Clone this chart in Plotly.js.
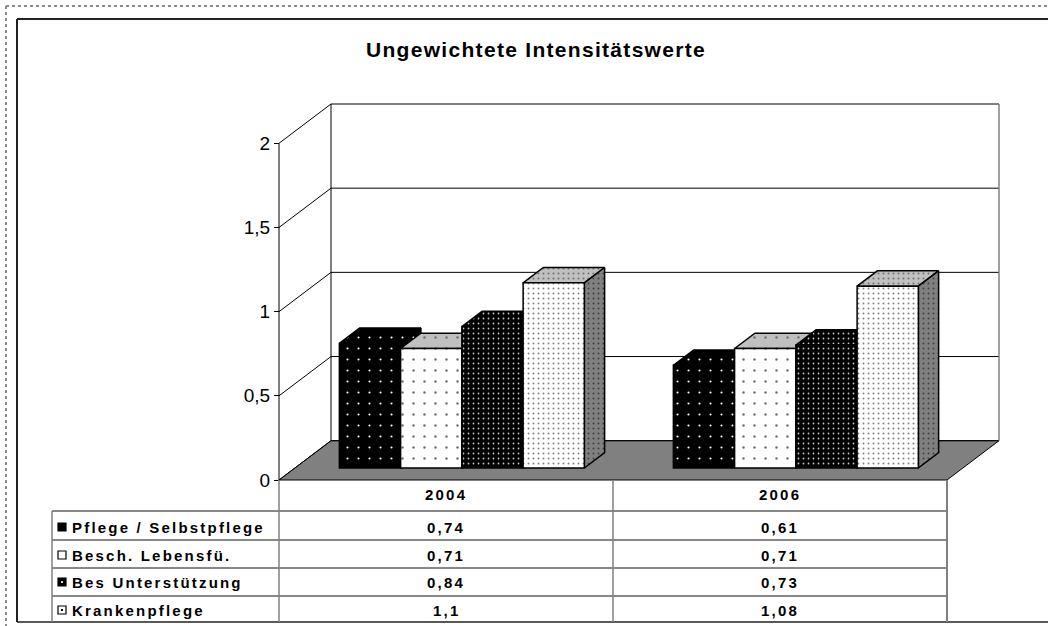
<!DOCTYPE html>
<html>
<head>
<meta charset="utf-8">
<script src="https://cdn.plot.ly/plotly-3.0.1.min.js"></script>
<style>
  html, body { margin: 0; padding: 0; background: #ffffff; }
  #chart { width: 1048px; height: 626px; }
  .annotation-text { letter-spacing: 2.2px; }
  .gtitle { letter-spacing: 1.3px; }
</style>
</head>
<body>
<div id="chart"></div>
<script>
// ---------------- data ----------------
const categories = ['2004', '2006'];
const seriesNames = ['Pflege / Selbstpflege', 'Besch. Lebensfü.', 'Bes Unterstützung', 'Krankenpflege'];
const pflegeSelbstpflege = [0.74, 0.61];
const beschLebensfue = [0.71, 0.71];
const besUnterstuetzung = [0.84, 0.73];
const krankenpflege = [1.1, 1.08];
const yTickValues = [0, 0.5, 1, 1.5, 2];
const chartTitle = 'Ungewichtete Intensitätswerte';

const seriesValues = [pflegeSelbstpflege, beschLebensfue, besUnterstuetzung, krankenpflege];

// ---------------- styles ----------------
const faceStyles = [
  { front: { bg: '#000000', fg: '#ffffff', size: 11, sol: 0.03 },
    top:   { bg: '#000000', fg: '#ffffff', size: 11, sol: 0.03 },
    side:  { bg: '#000000', fg: '#ffffff', size: 11, sol: 0.03 } },
  { front: { bg: '#ffffff', fg: '#707070', size: 11, sol: 0.04 },
    top:   { bg: '#c0c0c0', fg: '#707070', size: 11, sol: 0.04 },
    side:  { bg: '#808080', fg: '#404040', size: 11, sol: 0.04 } },
  { front: { bg: '#000000', fg: '#c8c8c8', size: 5, sol: 0.1 },
    top:   { bg: '#000000', fg: '#c8c8c8', size: 5, sol: 0.1 },
    side:  { bg: '#000000', fg: '#c8c8c8', size: 5, sol: 0.1 } },
  { front: { bg: '#ffffff', fg: '#808080', size: 5, sol: 0.12 },
    top:   { bg: '#c0c0c0', fg: '#707070', size: 5, sol: 0.12 },
    side:  { bg: '#808080', fg: '#404040', size: 5, sol: 0.12 } }
];
const legendMarks = [
  { fill: '#000000', dot: '#000000' },
  { fill: '#ffffff', dot: '#ffffff' },
  { fill: '#000000', dot: '#d0d0d0' },
  { fill: '#ffffff', dot: '#000000' }
];

// ---------------- geometry (3D projection) ----------------
const CAT_PX = 334, UNIT_PX = 168.35;
const KX = 52 / CAT_PX;        // x shift per unit depth (data units)
const KY = 39.3 / UNIT_PX;     // y shift per unit depth (data units)
const Z_F = 0.305, DZ = 0.39;  // bar front plane depth, bar depth
const BARGAP = 0.2665;
const PADX = 3 / CAT_PX, PADY = 3 / UNIT_PX;
const xRange = [-0.5 - PADX, 1.5 + KX + PADX];
const yRange = [-PADY, 2 + KY + PADY];

const W = 1048, H = 626;
const ML = 276, MR = 46, MT = 101, MB = 143;
const PW = W - ML - MR, PH = H - MT - MB;
const px2x = X => (X - ML) / PW;
const px2y = Y => (H - MB - Y) / PH;

function P(u, v, z) { return [u + z * KX, v + z * KY]; }

function patternOf(s) {
  return { shape: '.', bgcolor: s.bg, fgcolor: s.fg, size: s.size, solidity: s.sol, fillmode: 'replace' };
}

const traces = [];
const gw = 1 - BARGAP, bw = gw / 4;

// top and side faces (drawn underneath the front faces)
seriesValues.forEach((vals, j) => {
  ['top', 'side'].forEach(face => {
    const xs = [], ys = [];
    vals.forEach((v, i) => {
      const ul = i - gw / 2 + j * bw, ur = ul + bw;
      let pts;
      if (face === 'top') {
        pts = [P(ul, v, Z_F), P(ur, v, Z_F), P(ur, v, Z_F + DZ), P(ul, v, Z_F + DZ), P(ul, v, Z_F)];
      } else {
        pts = [P(ur, 0, Z_F), P(ur, 0, Z_F + DZ), P(ur, v, Z_F + DZ), P(ur, v, Z_F), P(ur, 0, Z_F)];
      }
      pts.forEach(p => { xs.push(p[0]); ys.push(p[1]); });
      xs.push(null); ys.push(null);
    });
    const st = faceStyles[j][face];
    traces.push({
      type: 'scatter', mode: 'lines', x: xs, y: ys,
      fill: 'toself', fillcolor: st.bg, fillpattern: patternOf(st),
      line: { color: '#000000', width: 1.5 },
      hoverinfo: 'skip', showlegend: false, xaxis: 'x', yaxis: 'y'
    });
  });
});

// front faces as real bars on the overlaid subplot
seriesValues.forEach((vals, j) => {
  const st = faceStyles[j].front;
  traces.push({
    type: 'bar', name: seriesNames[j],
    x: categories.map((c, i) => i + Z_F * KX),
    y: vals,
    base: Z_F * KY,
    marker: { color: st.bg, pattern: patternOf(st), line: { color: '#000000', width: 1.5 } },
    showlegend: false, hoverinfo: 'skip',
    xaxis: 'x2', yaxis: 'y2'
  });
});

// ---------------- shapes ----------------
const shapes = [];
// floor
const f1 = P(-0.5, 0, 0), f2 = P(1.5, 0, 0), f3 = P(1.5, 0, 1), f4 = P(-0.5, 0, 1);
shapes.push({ type: 'path', xref: 'x', yref: 'y', layer: 'below',
  path: `M ${f1[0]} ${f1[1]} L ${f2[0]} ${f2[1]} L ${f3[0]} ${f3[1]} L ${f4[0]} ${f4[1]} Z`,
  fillcolor: '#808080', line: { color: '#000000', width: 1 } });
// back wall gridlines and diagonals
yTickValues.forEach(v => {
  const a = P(-0.5, v, 1), b = P(1.5, v, 1);
  shapes.push({ type: 'line', xref: 'x', yref: 'y', layer: 'below',
    x0: a[0], y0: a[1], x1: b[0], y1: b[1], line: { color: '#000000', width: 1 } });
  const c = P(-0.5, v, 0);
  shapes.push({ type: 'line', xref: 'x', yref: 'y', layer: 'below',
    x0: c[0], y0: c[1], x1: a[0], y1: a[1], line: { color: '#000000', width: 1 } });
});
// wall edges and front axis line
{
  const a = P(-0.5, 0, 1), b = P(-0.5, 2, 1), c = P(1.5, 0, 1), d = P(1.5, 2, 1);
  shapes.push({ type: 'line', xref: 'x', yref: 'y', layer: 'below', x0: a[0], y0: a[1], x1: b[0], y1: b[1], line: { color: '#000000', width: 1 } });
  shapes.push({ type: 'line', xref: 'x', yref: 'y', layer: 'below', x0: c[0], y0: c[1], x1: d[0], y1: d[1], line: { color: '#808080', width: 1.5 } });
  const e = P(-0.5, 0, 0), g = P(-0.5, 2, 0);
  shapes.push({ type: 'line', xref: 'x', yref: 'y', layer: 'below', x0: e[0], y0: e[1], x1: g[0], y1: g[1], line: { color: '#000000', width: 1 } });
}

function pline(X0, Y0, X1, Y1, color, width, dash) {
  shapes.push({ type: 'line', xref: 'paper', yref: 'paper',
    x0: px2x(X0), y0: px2y(Y0), x1: px2x(X1), y1: px2y(Y1),
    line: { color: color, width: width, dash: dash || 'solid' } });
}
// outer dotted frame and inner border
pline(6, 6, 1048, 6, '#8a8a8a', 2, 'dot');
pline(6, 6, 6, 626, '#8a8a8a', 2, 'dot');
pline(17, 19, 1048, 19, '#222222', 2);
pline(17, 19, 17, 622, '#222222', 2);
pline(17, 622, 1048, 622, '#222222', 1.5);

// data table grid
const tableLeft = 52, tableRight = 279 + 2 * CAT_PX, tableTop = 480;
const headerY = 495;
const rowLines = [511, 540, 568, 596];
const rowCenters = [527, 555, 582, 610];
rowLines.forEach(Y => pline(tableLeft, Y, tableRight, Y, '#111111', 1));
pline(tableLeft, 511, tableLeft, 622, '#808080', 1.5);
pline(279, tableTop, 279, 622, '#808080', 1.5);
categories.forEach((c, i) => {
  const X = 279 + (i + 1) * CAT_PX;
  pline(X, tableTop, X, 622, '#808080', i === categories.length - 1 ? 2 : 1.5);
});

// legend keys in the table
legendMarks.forEach((m, j) => {
  const Y = rowCenters[j];
  shapes.push({ type: 'rect', xref: 'paper', yref: 'paper',
    x0: px2x(58), x1: px2x(66), y0: px2y(Y + 4), y1: px2y(Y - 4),
    fillcolor: m.fill, line: { color: '#000000', width: 1.2 } });
  if (m.dot !== m.fill) {
    shapes.push({ type: 'rect', xref: 'paper', yref: 'paper',
      x0: px2x(61), x1: px2x(63), y0: px2y(Y + 1), y1: px2y(Y - 1),
      fillcolor: m.dot, line: { width: 0 } });
  }
});

// ---------------- annotations ----------------
const tfont = { family: 'Liberation Sans, Arial, sans-serif', size: 15, color: '#000000', weight: 700 };
const annotations = [];
categories.forEach((c, i) => {
  annotations.push({ xref: 'paper', yref: 'paper', x: px2x(279 + (i + 0.5) * CAT_PX), y: px2y(headerY),
    text: c, showarrow: false, xanchor: 'center', yanchor: 'middle', font: tfont });
});
seriesNames.forEach((n, j) => {
  annotations.push({ xref: 'paper', yref: 'paper', x: px2x(70), y: px2y(rowCenters[j]),
    text: n, showarrow: false, xanchor: 'left', yanchor: 'middle', font: tfont });
  seriesValues[j].forEach((v, i) => {
    annotations.push({ xref: 'paper', yref: 'paper', x: px2x(279 + (i + 0.5) * CAT_PX), y: px2y(rowCenters[j]),
      text: String(v).replace('.', ','), showarrow: false, xanchor: 'center', yanchor: 'middle', font: tfont });
  });
});

// ---------------- layout ----------------
const layout = {
  width: W, height: H,
  margin: { l: ML, r: MR, t: MT, b: MB, pad: 0 },
  paper_bgcolor: '#ffffff', plot_bgcolor: 'rgba(0,0,0,0)',
  separators: ',.',
  title: { text: chartTitle, xref: 'container', yref: 'container', x: 536 / W, y: 1 - 50 / H,
    xanchor: 'center', yanchor: 'middle',
    font: { family: 'Liberation Sans, Arial, sans-serif', size: 21, weight: 700, color: '#000000' } },
  barmode: 'group', bargap: BARGAP, bargroupgap: 0,
  xaxis: { range: xRange, visible: false, fixedrange: true },
  yaxis: { range: yRange, anchor: 'free', position: PADX * CAT_PX / PW, showgrid: false, zeroline: false,
    showline: false, tickmode: 'array', tickvals: yTickValues, ticks: 'outside', ticklen: 5,
    tickcolor: '#000000', tickwidth: 1,
    tickfont: { family: 'Liberation Sans, Arial, sans-serif', size: 19, color: '#000000' } },
  xaxis2: { range: xRange, overlaying: 'x', anchor: 'y2', visible: false },
  yaxis2: { range: yRange, overlaying: 'y', anchor: 'x2', visible: false },
  shapes: shapes,
  annotations: annotations,
  showlegend: false
};

Plotly.newPlot('chart', traces, layout, { staticPlot: true, displayModeBar: false });
</script>
</body>
</html>
